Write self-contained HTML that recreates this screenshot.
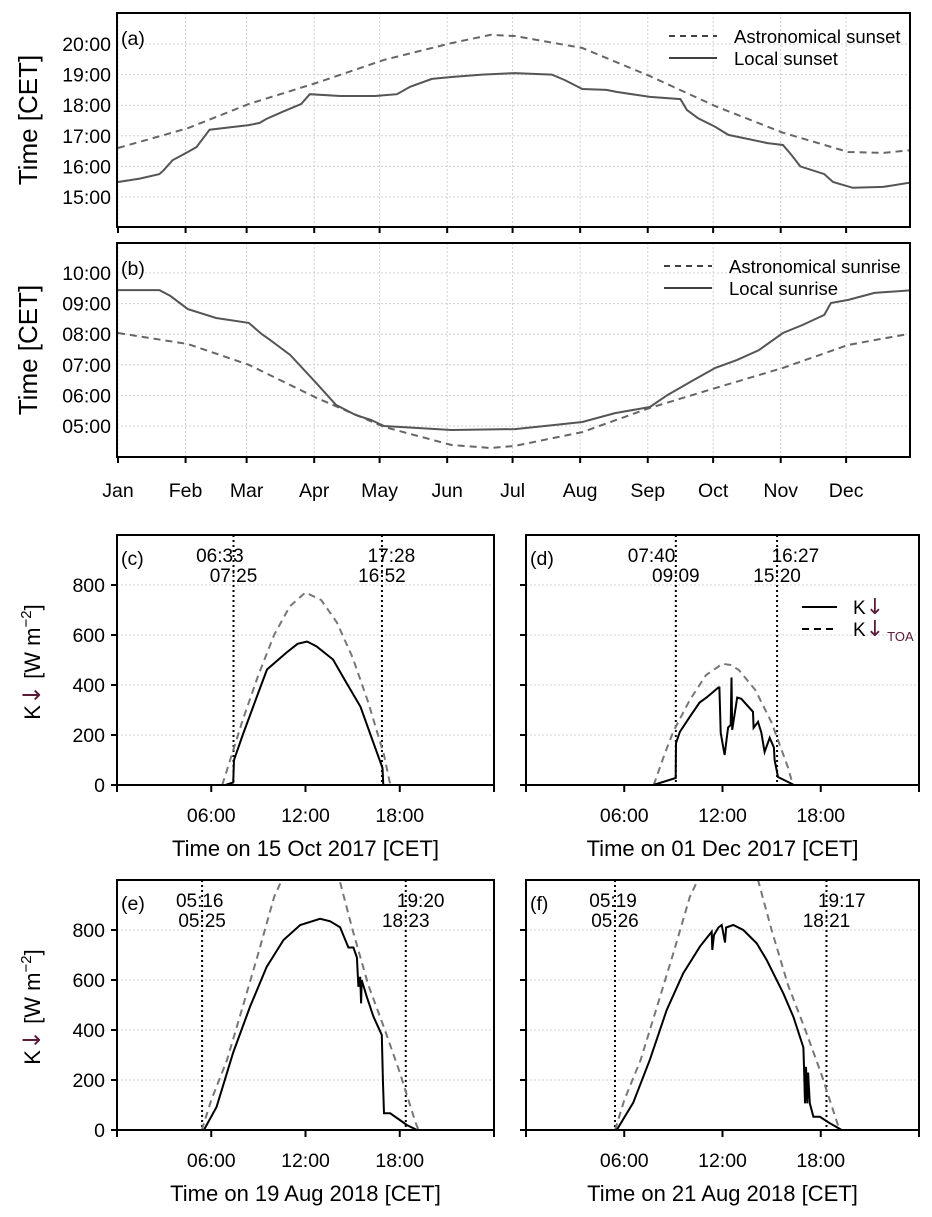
<!DOCTYPE html>
<html><head><meta charset="utf-8"><style>
body{margin:0;background:#fff}
svg{display:block;font-family:"Liberation Sans",Arial,sans-serif}
.arr{font-family:"DejaVu Sans",sans-serif}
</style></head><body>
<svg id="fig" width="932" height="1217" viewBox="0 0 932 1217" xmlns="http://www.w3.org/2000/svg"></svg>
<script>
// ---------- Data: annual sunset / sunrise (day-of-year, decimal hours) ----------
const monthLabels=["Jan","Feb","Mar","Apr","May","Jun","Jul","Aug","Sep","Oct","Nov","Dec"];
const monthStarts=[0,31,59,90,120,151,181,212,243,273,304,334];
const sunsetTicks=[15,16,17,18,19,20];
const sunriseTicks=[5,6,7,8,9,10];
const astroSunsetDoy=[0,32,60,91,122,153,171,182,213,244,274,305,335,351,365];
const astroSunsetH=[16.6,17.25,18.04,18.73,19.48,20.03,20.3,20.26,19.87,18.95,17.97,17.1,16.47,16.44,16.54];
const localSunsetDoy=[0,10,19,21,25,32,36,42,60,65,68,76,84,88,102,118,128,134,144,153,167,182,199,205,213,224,229,244,258,261,266,274,280,298,305,309,313,324,328,337,351,365];
const localSunsetH=[15.49,15.6,15.75,15.88,16.2,16.47,16.63,17.2,17.35,17.42,17.55,17.8,18.04,18.36,18.3,18.3,18.36,18.6,18.86,18.92,19.0,19.05,19.0,18.82,18.53,18.5,18.43,18.27,18.2,17.84,17.58,17.29,17.03,16.76,16.7,16.37,16.0,15.75,15.49,15.3,15.33,15.49];
const astroSunriseDoy=[0,32,60,91,122,153,171,182,213,244,274,305,335,365];
const astroSunriseH=[8.04,7.68,7.0,5.92,4.97,4.38,4.28,4.35,4.8,5.59,6.24,6.9,7.65,8.04];
const localSunriseDoy=[0,19,24,32,45,60,66,70,79,91,100,109,116,122,153,182,192,213,228,244,252,264,274,284,294,305,314,324,327,335,347,365];
const localSunriseH=[9.44,9.44,9.25,8.82,8.53,8.37,8.0,7.8,7.32,6.4,5.69,5.36,5.2,5.0,4.87,4.9,4.97,5.13,5.42,5.62,6.01,6.5,6.9,7.16,7.48,8.04,8.3,8.63,9.02,9.12,9.35,9.44];

// ---------- Data: daily irradiance (hour, W m-2) ----------
const kTicks=[0,200,400,600,800];
const hourTicks=[0,6,12,18,24];
const hourTickLabels=["","06:00","12:00","18:00",""];
const cToaH=[6.7,7,8,9,10,11,12,13,14,15,16,17,17.4];
const cToaV=[0,60,260,440,600,715,770,740,650,510,330,120,0];
const cObsH=[6.9,7.4,7.45,8,9,9.55,10.8,11.5,12.1,12.7,13.75,14.5,15.5,16.2,16.9,16.95];
const cObsV=[0,10,100,200,370,462,530,565,574,555,502,420,313,190,68,0];
const dToaH=[7.8,8.5,9,10,11,12,12.5,13,14,15,16,16.3];
const dToaV=[0,130,215,340,440,485,480,460,380,250,70,0];
const dObsH=[7.78,9.14,9.16,9.4,10.0,10.6,11.03,11.75,11.81,11.89,12.13,12.34,12.5,12.55,12.59,12.9,13.15,13.86,13.9,14.17,14.37,14.57,14.88,15.14,15.18,15.39,16.37];
const dObsV=[0,28,168,213,273,330,350,390,390,209,120,230,240,430,221,350,345,293,229,253,210,132,189,150,100,32,0];
const eToaH=[5.4,6,7,8,9,10,11,12,13,14,15,16,17,18,19,19.2];
const eToaV=[0,120,280,493,708,932,1070,1100,1090,1040,800,580,410,230,30,0];
const eObsH=[5.53,6.34,7.4,8.47,9.53,10.6,11.66,12.93,13.57,14.2,14.73,15.05,15.27,15.37,15.48,15.54,15.58,15.9,16.33,16.86,16.93,17.0,17.39,18.0,18.45,19.1];
const eObsV=[0,93,310,493,653,760,820,845,835,811,730,730,690,573,613,507,600,533,453,380,200,67,67,40,20,0];
const fToaH=[5.44,6,7,8,9,10,11,12,13,14,15,16,17,18,19,19.13];
const fToaV=[0,120,280,493,708,932,1070,1100,1090,1040,800,580,410,230,30,0];
const fObsH=[5.54,6.55,7.57,8.59,9.6,10.63,11.34,11.38,11.48,11.75,11.95,12.15,12.22,12.66,13.27,14.09,14.7,15.71,16.33,16.94,16.98,17.04,17.1,17.18,17.23,17.33,17.55,17.95,18.56,19.28];
const fObsV=[0,110,283,480,627,735,793,720,780,810,820,750,810,820,800,747,680,547,453,330,253,107,253,107,230,107,53,53,27,0];
const sunTimesAstro=[[6.55,17.467],[7.667,16.45],[5.267,19.333],[5.317,19.283]];
const sunTimesLocal=[[7.417,16.867],[9.15,15.333],[5.417,18.383],[5.433,18.35]];
const sunLabelsAstro=[["06:33","17:28"],["07:40","16:27"],["05:16","19:20"],["05:19","19:17"]];
const sunLabelsLocal=[["07:25","16:52"],["09:09","15:20"],["05:25","18:23"],["05:26","18:21"]];
const dayTitles=["Time on 15 Oct 2017 [CET]","Time on 01 Dec 2017 [CET]","Time on 19 Aug 2018 [CET]","Time on 21 Aug 2018 [CET]"];
const panelLetters=["(c)","(d)","(e)","(f)"];

const NS="http://www.w3.org/2000/svg";
const svg=document.getElementById('fig');
function mk(tag,attrs,parent,text){const e=document.createElementNS(NS,tag);for(const k in attrs)e.setAttribute(k,attrs[k]);if(text!==undefined)e.textContent=text;(parent||svg).appendChild(e);return e;}
function pathD(xs,ys,fx,fy){return xs.map((x,i)=>(i?'L':'M')+fx(x).toFixed(1)+','+fy(ys[i]).toFixed(1)).join('');}

// ---------- Annual panels ----------
const xYear=d=>118+d*2.18;
function annualPanel(name,top,bottom,yRef,hRef,ticks,letter,aD,aH,lD,lH,legA,legL,legX){
  const g=mk('g',{});
  
  
  const fy=h=>yRef-(h-hRef)*30.6;
  const cp=mk('clipPath',{id:'clip-'+name},g);mk('rect',{x:117,y:top,width:793,height:bottom-top},cp);
  monthStarts.forEach(d=>{const l=mk('line',{x1:xYear(d),x2:xYear(d),y1:top,y2:bottom,stroke:'#d0d0d0','stroke-dasharray':'2,2','stroke-width':1},g);
    });
  ticks.forEach(h=>{const l=mk('line',{x1:117,x2:910,y1:fy(h),y2:fy(h),stroke:'#d0d0d0','stroke-dasharray':'2,2','stroke-width':1},g);
    
    const t=mk('text',{x:111,y:fy(h)+7,'text-anchor':'end','font-size':19.5},g,(h<10?'0':'')+h+':00');
    });
  const pa=mk('path',{d:pathD(aD,aH,xYear,fy),fill:'none',stroke:'#666','stroke-width':2,'stroke-dasharray':'7,5','clip-path':'url(#clip-'+name+')'},g);
  
  const pl=mk('path',{d:pathD(lD,lH,xYear,fy),fill:'none',stroke:'#555','stroke-width':2,'clip-path':'url(#clip-'+name+')'},g);
  
  const box=mk('rect',{x:117,y:top,width:793,height:bottom-top,fill:'none',stroke:'#000','stroke-width':2},g);
  
  monthStarts.forEach(d=>{const l=mk('line',{x1:xYear(d),x2:xYear(d),y1:bottom,y2:bottom+6,stroke:'#000','stroke-width':2},g);
    });
  const pl2=mk('text',{x:121,y:top+32,'font-size':19.5},g,letter);
  
  const yt=mk('text',{x:0,y:0,'font-size':26,'text-anchor':'middle',transform:`translate(37,${(top+bottom)/2}) rotate(-90)`},g,'Time [CET]');
  
  const lg=mk('g',{},g);
  mk('line',{x1:legX,x2:legX+48,y1:top+23,y2:top+23,stroke:'#000','stroke-width':1.5,'stroke-dasharray':'6,5'},lg);
  mk('text',{x:legX+65,y:top+30,'font-size':18.5},lg,legA);
  mk('line',{x1:legX,x2:legX+48,y1:top+45,y2:top+45,stroke:'#000','stroke-width':1.5},lg);
  mk('text',{x:legX+65,y:top+52,'font-size':18.5},lg,legL);
}
annualPanel('panel-a-sunset',13,227,44,20,sunsetTicks,'(a)',astroSunsetDoy,astroSunsetH,localSunsetDoy,localSunsetH,'Astronomical sunset','Local sunset',669);
annualPanel('panel-b-sunrise',243,457,273,10,sunriseTicks,'(b)',astroSunriseDoy,astroSunriseH,localSunriseDoy,localSunriseH,'Astronomical sunrise','Local sunrise',664);
monthLabels.forEach((m,i)=>{const t=mk('text',{x:xYear(monthStarts[i]),y:497,'text-anchor':'middle','font-size':19.5},svg,m);
  });

// ---------- Daily panels ----------
const dayPanels=[
 {x0:117,x1:494,top:535,bottom:785,toaH:cToaH,toaV:cToaV,obsH:cObsH,obsV:cObsV,ylab:true,legend:false},
 {x0:526,x1:919,top:535,bottom:785,toaH:dToaH,toaV:dToaV,obsH:dObsH,obsV:dObsV,ylab:false,legend:true},
 {x0:117,x1:494,top:880,bottom:1130,toaH:eToaH,toaV:eToaV,obsH:eObsH,obsV:eObsV,ylab:true,legend:false},
 {x0:526,x1:919,top:880,bottom:1130,toaH:fToaH,toaV:fToaV,obsH:fObsH,obsV:fObsV,ylab:false,legend:false}];
dayPanels.forEach((p,i)=>{
  const g=mk('g',{});
  
  
  const fx=h=>p.x0+h*(p.x1-p.x0)/24, fy=v=>p.bottom-v*(p.bottom-p.top)/1000;
  const cid='clipk'+i;const cp=mk('clipPath',{id:cid},g);mk('rect',{x:p.x0,y:p.top,width:p.x1-p.x0,height:p.bottom-p.top},cp);
  kTicks.slice(1).forEach(v=>{const l=mk('line',{x1:p.x0,x2:p.x1,y1:fy(v),y2:fy(v),stroke:'#d0d0d0','stroke-dasharray':'2,2','stroke-width':1},g);
    });
  kTicks.forEach(v=>{const l=mk('line',{x1:p.x0-6,x2:p.x0,y1:fy(v),y2:fy(v),stroke:'#000','stroke-width':2},g);
    
    if(p.ylab){const t=mk('text',{x:p.x0-12,y:fy(v)+7,'text-anchor':'end','font-size':19.5},g,String(v));
      }});
  hourTicks.forEach((h,j)=>{const l=mk('line',{x1:fx(h),x2:fx(h),y1:p.bottom,y2:p.bottom+7,stroke:'#000','stroke-width':2},g);
    
    if(hourTickLabels[j]){const t=mk('text',{x:fx(h),y:p.bottom+37,'text-anchor':'middle','font-size':19.5},g,hourTickLabels[j]);
      }});
  sunTimesLocal[i].forEach(h=>{const l=mk('line',{x1:fx(h),x2:fx(h),y1:p.top,y2:p.bottom,stroke:'#000','stroke-width':2,'stroke-dasharray':'2,3'},g);
    });
  const pt=mk('path',{d:pathD(p.toaH,p.toaV,fx,fy),fill:'none',stroke:'#777','stroke-width':2,'stroke-dasharray':'7,5','clip-path':`url(#${cid})`},g);
  
  const po=mk('path',{d:pathD(p.obsH,p.obsV,fx,fy),fill:'none',stroke:'#000','stroke-width':2,'clip-path':`url(#${cid})`},g);
  
  sunTimesAstro[i].forEach((h,j)=>{const t=mk('text',{x:fx(h),y:p.top+27,'text-anchor':'middle','font-size':19},g,sunLabelsAstro[i][j]);
    });
  sunTimesLocal[i].forEach((h,j)=>{const t=mk('text',{x:fx(h),y:p.top+47,'text-anchor':'middle','font-size':19},g,sunLabelsLocal[i][j]);
    });
  const box=mk('rect',{x:p.x0,y:p.top,width:p.x1-p.x0,height:p.bottom-p.top,fill:'none',stroke:'#000','stroke-width':2},g);
  
  const lt=mk('text',{x:p.x0+4,y:p.top+30,'font-size':19.5},g,panelLetters[i]);
  
  const xt=mk('text',{x:(p.x0+p.x1)/2,y:p.bottom+71,'text-anchor':'middle','font-size':22},g,dayTitles[i]);
  
  if(p.ylab){
    const yt=mk('text',{'font-size':22,'text-anchor':'middle',transform:`translate(40,${(p.top+p.bottom)/2+2}) rotate(-90)`},g);
    
    mk('tspan',{},yt,'K');mk('tspan',{fill:'#5a1a3a','class':'arr','font-size':24},yt,'\u2193');mk('tspan',{},yt,' [W m');
    mk('tspan',{dy:-9,'font-size':15},yt,'\u22122');mk('tspan',{dy:9},yt,']');
  }
  if(p.legend){
    const lg=mk('g',{},g);
    mk('line',{x1:802,x2:837,y1:607,y2:607,stroke:'#000','stroke-width':2},lg);
    const t1=mk('text',{x:853,y:614,'font-size':19},lg);mk('tspan',{},t1,'K');mk('tspan',{fill:'#5a1a3a','class':'arr','font-size':22},t1,'\u2193');
    mk('line',{x1:802,x2:837,y1:629,y2:629,stroke:'#000','stroke-width':2,'stroke-dasharray':'7,5'},lg);
    const t2=mk('text',{x:853,y:636,'font-size':19},lg);mk('tspan',{},t2,'K');mk('tspan',{fill:'#5a1a3a','class':'arr','font-size':22},t2,'\u2193');
    mk('tspan',{dy:5,'font-size':13,fill:'#5a1a3a',dx:3},t2,'TOA');
  }
});
</script>
</body></html>
